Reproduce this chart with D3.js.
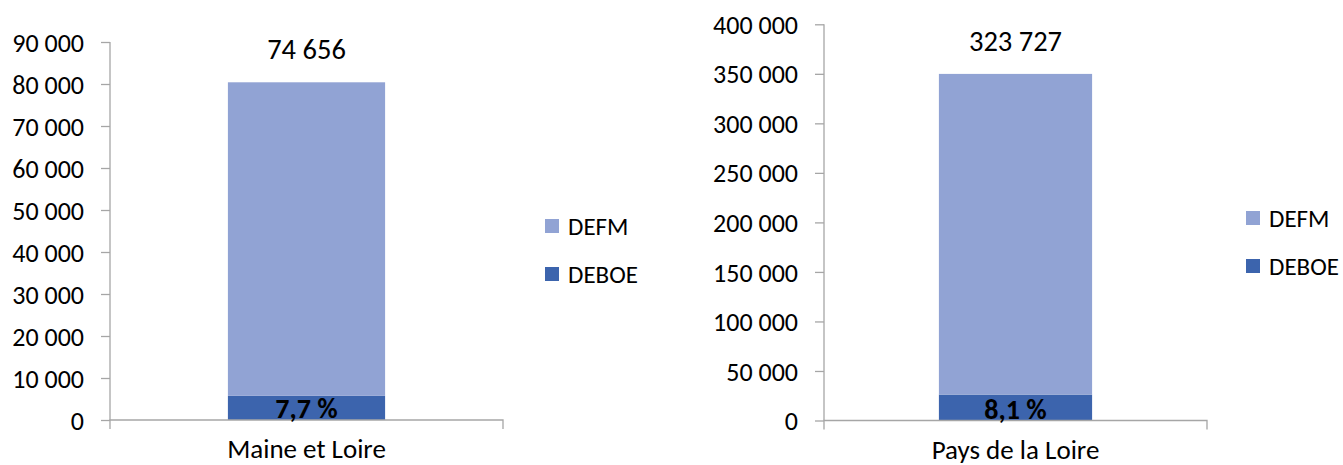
<!DOCTYPE html>
<html>
<head>
<meta charset="utf-8">
<script src="https://cdn.jsdelivr.net/npm/d3@7"></script>
<style>
  html, body { margin: 0; padding: 0; background: #fff; }
  svg text { font-family: Carlito, Lato, "Open Sans", sans-serif; fill: #000; }
</style>
</head>
<body>
<svg id="chart" width="1343" height="465"></svg>
<script>
/*************************** Data ***************************/
var categories = ["Maine et Loire", "Pays de la Loire"];
var seriesNames = ["DEFM", "DEBOE"];
var defmValues = [74656, 323727];
var deboeValues = [5750, 26200];
var totalLabels = ["74 656", "323 727"];
var shareLabels = ["7,7 %", "8,1 %"];
var yMaxValues = [90000, 400000];
var yStepValues = [10000, 50000];

/*************************** Layout ***************************/
var panels = [
    { left: 110, right: 503, top: 42, bottom: 420, legendX: 545, legendY: 226 },
    { left: 824, right: 1207, top: 24.3, bottom: 420.5, legendX: 1246, legendY: 218 }
];
var colors = { DEFM: "#91a3d4", DEBOE: "#3c64ad" };
var axisColor = "#a6a6a6";

var fr = d3.formatLocale({ decimal: ",", thousands: " ", grouping: [3], currency: ["", " €"] });
var fmt = fr.format(",d");

var svg = d3.select("#chart");

/*************************** Draw ***************************/
function draw_panel(i)
{
    var p = panels[i];
    var g = svg.append("g").attr("class", "panel-" + i);

    var y = d3.scaleLinear()
        .domain([0, yMaxValues[i]])
        .range([p.bottom, p.top]);
    var x = d3.scaleBand()
        .domain([categories[i]])
        .range([p.left, p.right])
        .paddingInner(0.6)
        .paddingOuter(0.3);

    var rows = [{ cat: categories[i], DEBOE: deboeValues[i], DEFM: defmValues[i] }];
    var stacked = d3.stack().keys(["DEBOE", "DEFM"])(rows);

    // y axis
    var yAxis = d3.axisLeft(y)
        .tickValues(d3.range(0, yMaxValues[i] + 1, yStepValues[i]))
        .tickFormat(fmt)
        .tickSize(9)
        .tickPadding(17);
    var ya = g.append("g")
        .attr("transform", "translate(" + p.left + ",0)")
        .call(yAxis);
    ya.select(".domain").attr("stroke", axisColor).attr("stroke-width", 1.3)
        .attr("d", "M0," + p.top + "V" + p.bottom);
    ya.selectAll(".tick line").attr("stroke", axisColor).attr("stroke-width", 1.3);
    ya.selectAll(".tick text").style("font-size", "26px").attr("dy", "0.35em");

    // bars
    g.selectAll("g.layer")
        .data(stacked)
        .enter()
        .append("g")
        .attr("class", "layer")
        .attr("fill", function(d){ return colors[d.key]; })
        .selectAll("rect")
        .data(function(d){ return d; })
        .enter()
        .append("rect")
        .attr("x", function(d){ return x(d.data.cat); })
        .attr("width", x.bandwidth())
        .attr("y", function(d){ return y(d[1]); })
        .attr("height", function(d){ return y(d[0]) - y(d[1]); });

    // x axis
    var xAxis = d3.axisBottom(x).tickSize(0).tickPadding(19);
    var xa = g.append("g")
        .attr("transform", "translate(0," + p.bottom + ")")
        .call(xAxis);
    xa.select(".domain").attr("stroke", axisColor).attr("stroke-width", 1.3)
        .attr("d", "M" + p.left + ",9V0H" + p.right + "V9");
    xa.selectAll(".tick text").style("font-size", "27px").attr("dy", "0.71em");

    var cx = x(categories[i]) + x.bandwidth() / 2;
    var top = stacked[1][0][1];

    // total label above bar
    g.append("text")
        .attr("x", cx)
        .attr("y", y(top) - 33)
        .attr("text-anchor", "middle")
        .attr("dy", "0.35em")
        .style("font-size", "28.5px")
        .text(totalLabels[i]);

    // share label in DEBOE segment
    g.append("text")
        .attr("x", cx)
        .attr("y", p.bottom - 2)
        .attr("text-anchor", "middle")
        .style("font-size", "28px")
        .style("font-weight", "bold")
        .text(shareLabels[i]);

    // legend
    var lg = g.append("g")
        .attr("transform", "translate(" + p.legendX + "," + p.legendY + ")");
    var items = lg.selectAll("g.item")
        .data(seriesNames)
        .enter()
        .append("g")
        .attr("class", "item")
        .attr("transform", function(d, k){ return "translate(0," + (k * 48) + ")"; });
    items.append("rect")
        .attr("x", 0)
        .attr("y", -7)
        .attr("width", 14)
        .attr("height", 14)
        .attr("fill", function(d){ return colors[d]; });
    items.append("text")
        .attr("x", 23)
        .attr("y", 0)
        .attr("dy", "0.35em")
        .style("font-size", "25px")
        .text(function(d){ return d; });
}

for (var i = 0; i < categories.length; i++) { draw_panel(i); }
</script>
</body>
</html>
